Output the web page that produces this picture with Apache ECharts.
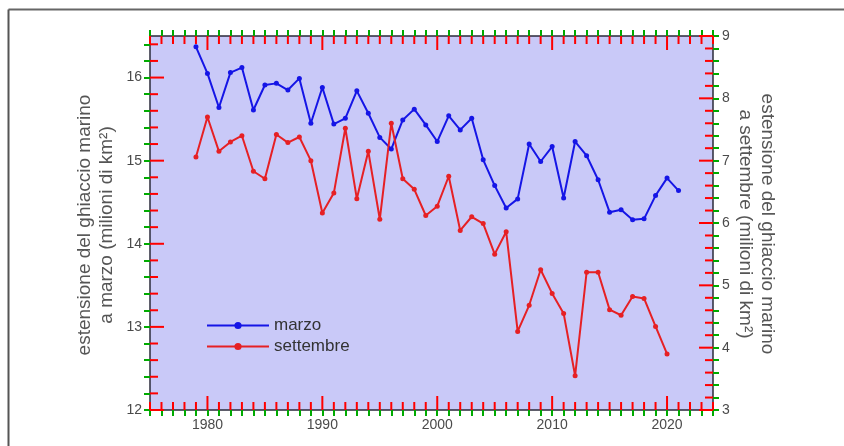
<!DOCTYPE html>
<html>
<head>
<meta charset="utf-8">
<script src="https://cdn.jsdelivr.net/npm/echarts@6/dist/echarts.min.js"></script>
<style>
html,body{margin:0;padding:0;background:#fff;}
#wrap{position:relative;width:844px;height:446px;}
#bg{position:absolute;left:150px;top:36px;width:563px;height:374px;background:#c9c9f8;}
#c{position:absolute;left:0;top:0;width:844px;height:446px;}
</style>
</head>
<body>
<div id="wrap"><div id="bg"></div><div id="c"></div></div>
<script>
const firstYear = 1979;
const marzo = [16.37, 16.05, 15.64, 16.06, 16.12, 15.61, 15.91, 15.93, 15.85, 15.99,
  15.45, 15.88, 15.44, 15.51, 15.84, 15.57, 15.28, 15.14, 15.49, 15.62,
  15.43, 15.23, 15.54, 15.37, 15.51, 15.01, 14.70, 14.43, 14.54, 15.20,
  14.99, 15.17, 14.55, 15.23, 15.06, 14.77, 14.38, 14.41, 14.29, 14.30,
  14.58, 14.79, 14.64];
const settembre = [7.06, 7.70, 7.15, 7.30, 7.40, 6.83, 6.71, 7.42, 7.29, 7.38,
  7.00, 6.16, 6.48, 7.52, 6.39, 7.15, 6.06, 7.60, 6.71, 6.54,
  6.12, 6.27, 6.75, 5.88, 6.10, 5.99, 5.50, 5.86, 4.26, 4.68,
  5.25, 4.87, 4.55, 3.55, 5.21, 5.21, 4.61, 4.52, 4.82, 4.79,
  4.34, 3.90];
const xTickLabels = [1980, 1990, 2000, 2010, 2020];
const seriesNames = ['marzo', 'settembre'];
const leftTitle = 'estensione del ghiaccio marino\na marzo (milioni di km²)';
const rightTitle = 'estensione del ghiaccio marino\na settembre (milioni di km²)';
const X_MIN = 1975, X_MAX = 2024;
const L_MIN = 12, L_MAX = 16.5;
const R_MIN = 3, R_MAX = 9;

const xTicks = [];
for (let y = X_MIN; y <= X_MAX; y++) xTicks.push(y);
const leftTicks = [];
for (let i = 0; L_MIN + i * 0.2 <= L_MAX + 1e-9; i++) leftTicks.push(+(L_MIN + i * 0.2).toFixed(1));
const rightTicks = [];
for (let i = 0; R_MIN + i * 0.2 <= R_MAX + 1e-9; i++) rightTicks.push(+(R_MIN + i * 0.2).toFixed(1));

const toPairs = arr => arr.map((v, i) => [firstYear + i, v]);
const axisCol = '#2a2a3a';
const labelCol = '#4a4a4a';
const font = 'Liberation Sans, Arial, sans-serif';
const isInt = v => Math.abs(v - Math.round(v)) < 1e-6;

function tickSeries(side, yIdx, data) {
  return {
    type: 'custom', name: 'ticks-' + side, xAxisIndex: 0, yAxisIndex: yIdx, data: data,
    silent: true, z: 3,
    renderItem: function (params, api) {
      const xv = api.value(0), yv = api.value(1);
      const p = api.coord([xv, yv]);
      let major, x2 = p[0], y2 = p[1];
      if (side === 'bottom' || side === 'top') {
        major = xv % 10 === 0;
        const L = major ? 14 : 8;
        y2 = side === 'bottom' ? p[1] - L : p[1] + L;
      } else {
        major = isInt(yv);
        const L = major ? 14 : 8;
        x2 = side === 'left' ? p[0] + L : p[0] - L;
      }
      return { type: 'line', shape: { x1: p[0], y1: p[1], x2: x2, y2: y2 }, style: { stroke: '#ff0000', lineWidth: 2 } };
    }
  };
}

const axisLine = { show: true, onZero: false, lineStyle: { color: axisCol, width: 1.5 } };
const tickLabel = { color: labelCol, fontSize: 14, fontFamily: font, margin: 8, formatter: v => String(v) };
const minorTick = vals => ({ show: true, inside: false, length: 6, customValues: vals, lineStyle: { color: '#00aa00', width: 2 } });

const chart = echarts.init(document.getElementById('c'));
chart.setOption({
  animation: false,
  backgroundColor: 'transparent',
  grid: { left: 150, top: 36, width: 563, height: 374, show: false },
  xAxis: [
    { type: 'value', position: 'bottom', min: X_MIN, max: X_MAX, interval: 1, axisLine: axisLine, axisTick: minorTick(xTicks),
      axisLabel: Object.assign({ customValues: xTickLabels }, tickLabel), splitLine: { show: false } },
    { type: 'value', position: 'top', min: X_MIN, max: X_MAX, interval: 1, axisLine: axisLine, axisTick: minorTick(xTicks),
      axisLabel: { show: false }, splitLine: { show: false } }
  ],
  yAxis: [
    { type: 'value', position: 'left', min: L_MIN, max: L_MAX, interval: 1, axisLine: axisLine, axisTick: minorTick(leftTicks),
      axisLabel: Object.assign({ showMaxLabel: false }, tickLabel), splitLine: { show: false } },
    { type: 'value', position: 'right', min: R_MIN, max: R_MAX, interval: 1, axisLine: axisLine, axisTick: minorTick(rightTicks),
      axisLabel: Object.assign({}, tickLabel, { margin: 9 }), splitLine: { show: false } }
  ],
  legend: {
    left: 201, top: 312, orient: 'vertical', itemWidth: 62, itemHeight: 9, itemGap: 4,
    textStyle: { color: '#333', fontSize: 17, fontFamily: font },
    data: seriesNames
  },
  graphic: [
    { type: 'line', shape: { x1: 8.5, y1: 9.5, x2: 844, y2: 9.5 }, style: { stroke: '#666', lineWidth: 2 }, silent: true },
    { type: 'line', shape: { x1: 8.5, y1: 9.5, x2: 8.5, y2: 446 }, style: { stroke: '#555', lineWidth: 2 }, silent: true },
    { type: 'text', x: 95.5, y: 225, rotation: Math.PI / 2,
      style: { text: leftTitle, fill: '#555', fontSize: 19, fontFamily: font, lineHeight: 22, align: 'center', verticalAlign: 'middle' } },
    { type: 'text', x: 756.5, y: 224, rotation: -Math.PI / 2,
      style: { text: rightTitle, fill: '#555', fontSize: 19, fontFamily: font, lineHeight: 22, align: 'center', verticalAlign: 'middle' } }
  ],
  series: [
    tickSeries('bottom', 0, xTicks.map(v => [v, L_MIN])),
    tickSeries('top', 0, xTicks.map(v => [v, L_MAX])),
    tickSeries('left', 0, leftTicks.map(v => [X_MIN, v])),
    tickSeries('right', 1, rightTicks.map(v => [X_MAX, v])),
    { name: seriesNames[0], type: 'line', xAxisIndex: 0, yAxisIndex: 0, data: toPairs(marzo), z: 4,
      symbol: 'circle', symbolSize: 5, color: '#1515e6', lineStyle: { width: 2, color: '#1515e6' }, itemStyle: { color: '#1515e6' } },
    { name: seriesNames[1], type: 'line', xAxisIndex: 0, yAxisIndex: 1, data: toPairs(settembre), z: 4,
      symbol: 'circle', symbolSize: 5, color: '#e62024', lineStyle: { width: 2, color: '#e62024' }, itemStyle: { color: '#e62024' } }
  ]
});
</script>
</body>
</html>
